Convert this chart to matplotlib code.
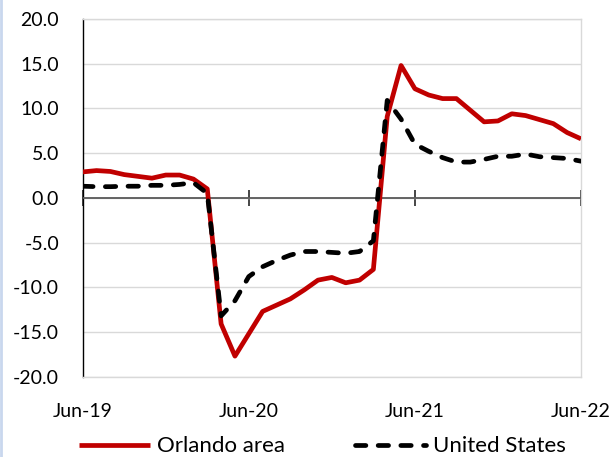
import matplotlib
matplotlib.use("Agg")
import matplotlib.pyplot as plt
import numpy as np
from matplotlib.lines import Line2D

# ---- data (monthly, Jun-2019 .. Jun-2022) ----
orlando = [2.9, 3.05, 2.95, 2.6, 2.4, 2.2, 2.55, 2.55, 2.1, 1.0,
           -14.1, -17.7, -15.2, -12.7, -12.0, -11.3, -10.3, -9.2, -8.9, -9.5, -9.2, -8.0,
           9.1, 14.8, 12.2, 11.5, 11.1, 11.1, 9.8, 8.5, 8.6, 9.4, 9.2, 8.75, 8.3, 7.3, 6.6]
united_states = [1.3, 1.25, 1.25, 1.3, 1.3, 1.4, 1.4, 1.5, 1.7, 0.5,
                 -13.2, -11.5, -8.8, -7.7, -7.0, -6.4, -6.0, -6.0, -6.1, -6.2, -6.0, -4.8,
                 10.9, 8.8, 6.0, 5.2, 4.5, 4.0, 4.0, 4.3, 4.65, 4.65, 4.9, 4.6, 4.5, 4.4, 4.1]
tick_labels = ["Jun-19", "Jun-20", "Jun-21", "Jun-22"]
tick_index = [0, 12, 24, 36]
series_names = ["Orlando area", "United States"]
y_ticks = [-20, -15, -10, -5, 0, 5, 10, 15, 20]

plt.rcParams['font.family'] = ['Lato', 'DejaVu Sans']
FS = 14
LFS = 16

fig = plt.figure(figsize=(6.16, 4.57), dpi=100)
ax = fig.add_axes([82.7/616, 1-376.7/457, (581-82.7)/616, (376.7-19)/457])

x = np.arange(len(orlando))
ax.plot(x, orlando, color="#C00000", lw=3.4, solid_capstyle="butt",
        solid_joinstyle="round", label=series_names[0], zorder=4)
ax.plot(x, united_states, color="black", lw=3.4, dashes=(2.2, 2.6),
        dash_capstyle="round", dash_joinstyle="round", label=series_names[1], zorder=5)

ax.set_xlim(0, 36)
ax.set_ylim(-20, 20)
ax.set_yticks(y_ticks)
ax.set_yticklabels([f"{v:.1f}" for v in y_ticks], fontsize=FS)
ax.yaxis.grid(True, color="#D9D9D9", lw=1.0)
ax.set_axisbelow(True)
ax.tick_params(axis="y", length=0, pad=17)

ax.set_xticks(tick_index)
ax.set_xticklabels(tick_labels, fontsize=FS)
ax.tick_params(axis="x", length=0, pad=19)

for s in ["top", "right", "bottom"]:
    ax.spines[s].set_color("#D9D9D9")
    ax.spines[s].set_linewidth(1.0)
ax.spines["left"].set_color("black")
ax.spines["left"].set_linewidth(1.0)

# horizontal axis drawn at zero with crossing tick marks
ax.axhline(0, color="#595959", lw=1.3, zorder=3)
sec = ax.secondary_xaxis(0.5)
sec.set_xticks(tick_index)
sec.set_xticklabels([""] * len(tick_index))
sec.tick_params(direction="inout", length=12, width=1.2, color="#262626")
for s in sec.spines.values():
    s.set_visible(False)

leg = fig.legend(loc="center", bbox_to_anchor=(322.5/616, 1-446.5/457), ncol=2, frameon=False,
                 fontsize=LFS, handlelength=3.2, columnspacing=3.15, handletextpad=0.3)

# thin left border from the source screenshot
fig.add_artist(Line2D([0.002, 0.002], [0, 1], color="#C9D7EE", lw=2, transform=fig.transFigure))

fig.savefig("out.png", dpi=100)
